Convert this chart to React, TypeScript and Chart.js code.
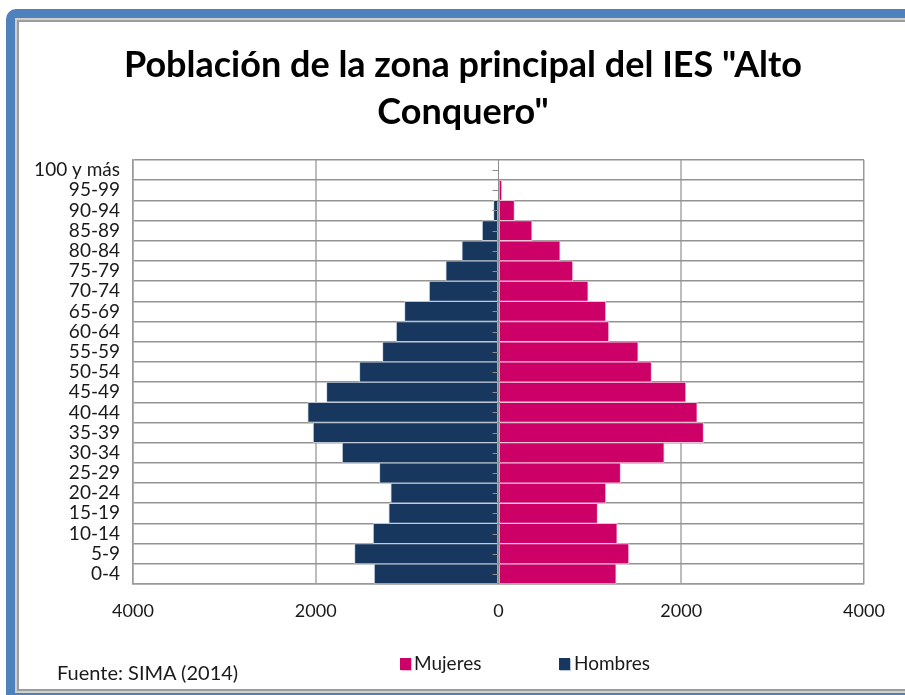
import React, { useEffect, useRef } from "react";
import { Chart, registerables } from "chart.js";

Chart.register(...registerables);

const titleLines = ['Población de la zona principal del IES "Alto', 'Conquero"'];
const categories = [
  "0-4", "5-9", "10-14", "15-19", "20-24", "25-29", "30-34", "35-39", "40-44", "45-49",
  "50-54", "55-59", "60-64", "65-69", "70-74", "75-79", "80-84", "85-89", "90-94", "95-99", "100 y más",
];
const mujeres = [1288, 1427, 1299, 1084, 1175, 1336, 1814, 2244, 2175, 2051, 1675, 1529, 1208, 1175, 982, 814, 675, 368, 175, 37, 0];
const hombres = [1361, 1576, 1372, 1201, 1179, 1303, 1711, 2029, 2088, 1883, 1522, 1270, 1120, 1029, 759, 577, 401, 179, 55, 0, 0];
const xMin = -4000;
const xMax = 4000;
const xStep = 2000;
const seriesNames = ["Mujeres", "Hombres"];
const sourceText = "Fuente: SIMA (2014)";

const PINK = "#CC0066";
const NAVY = "#17375E";
const FONT = "Lato, 'Open Sans', sans-serif";

const zeroAxisPlugin = {
  id: "zeroAxis",
  afterDatasetsDraw(chart: any) {
    const { ctx, scales, chartArea } = chart;
    const x0 = scales.x.getPixelForValue(0);
    ctx.save();
    ctx.strokeStyle = "#8c8c8c";
    ctx.lineWidth = 1;
    ctx.beginPath();
    ctx.moveTo(x0, chartArea.top);
    ctx.lineTo(x0, chartArea.bottom);
    for (let i = 0; i < categories.length; i++) {
      const y = Math.round(scales.y.getPixelForValue(i)) + 0.5;
      ctx.moveTo(x0 - 6, y);
      ctx.lineTo(x0, y);
    }
    ctx.stroke();
    ctx.restore();
  },
};

export default function App() {
  const ref = useRef<HTMLCanvasElement>(null);

  useEffect(() => {
    if (!ref.current) return;
    const chart = new Chart(ref.current, {
      type: "bar",
      data: {
        labels: categories,
        datasets: [
          {
            label: seriesNames[0],
            data: mujeres,
            backgroundColor: PINK,
            borderColor: "rgba(245,200,222,0.9)",
            borderWidth: 1,
            barPercentage: 1,
            categoryPercentage: 1,
          },
          {
            label: seriesNames[1],
            data: hombres.map((v) => -v),
            backgroundColor: NAVY,
            borderColor: "rgba(200,210,225,0.8)",
            borderWidth: 1,
            barPercentage: 1,
            categoryPercentage: 1,
          },
        ],
      },
      options: {
        indexAxis: "y",
        responsive: false,
        animation: false,
        layout: { padding: { left: 14, right: 41, top: 138, bottom: 0 } },
        plugins: {
          legend: { display: false },
          tooltip: { enabled: false },
          title: { display: false },
        },
        scales: {
          x: {
            stacked: true,
            min: xMin,
            max: xMax,
            afterFit: (s: any) => {
              s.height = 105;
            },
            ticks: {
              stepSize: xStep,
              padding: 16,
              color: "#1a1a1a",
              font: { family: FONT, size: 18 },
              callback: (v: any) => String(Math.abs(Number(v))),
            },
            grid: {
              drawTicks: false,
              color: (c: any) => {
                const v = c.tick ? c.tick.value : 0;
                if (v === xMin || v === xMax) return "#9a9a9a";
                if (v === 0) return "rgba(0,0,0,0)";
                return "#bdbdbd";
              },
              lineWidth: (c: any) => {
                const v = c.tick ? c.tick.value : 0;
                return v === xMin || v === xMax ? 1.5 : 2;
              },
            },
            border: { display: true, color: "#9a9a9a", width: 1.5 },
          },
          y: {
            stacked: true,
            reverse: true,
            afterFit: (s: any) => {
              s.width = 100;
            },
            ticks: {
              padding: 13,
              color: "#1a1a1a",
              font: { family: FONT, size: 19 },
              autoSkip: false,
            },
            grid: {
              offset: true,
              drawTicks: false,
              color: "#939393",
              lineWidth: 1.5,
            },
            border: { display: true, color: "#9a9a9a", width: 1.5 },
          },
        },
      },
      plugins: [zeroAxisPlugin],
    });
    return () => chart.destroy();
  }, []);

  const legendText = { position: "absolute" as const, top: 651, height: 24, lineHeight: "24px", fontFamily: FONT, fontSize: 19, color: "#1a1a1a", whiteSpace: "nowrap" as const };

  return (
    <div style={{ position: "fixed", left: 0, top: 0, width: 905, height: 695, background: "#fff", overflow: "hidden" }}>
      <div style={{ position: "absolute", left: 6, top: 9, width: 1000, height: 700, background: "#4F81BD", borderTopLeftRadius: 10 }} />
      <div style={{ position: "absolute", left: 15, top: 18, width: 1000, height: 675, boxSizing: "border-box", border: "2px solid #cfcfcf", background: "#fff" }}>
        <div style={{ position: "absolute", left: 0, top: 0, right: 0, bottom: 0, boxSizing: "border-box", border: "2px solid #9c9c9c" }} />
      </div>
      <canvas ref={ref} width={886} height={667} style={{ position: "absolute", left: 19, top: 22, width: 886, height: 667 }} />
      <div style={{ position: "absolute", left: 0, top: 40, width: 926, textAlign: "center", fontFamily: FONT, fontSize: 36, fontWeight: "bold", lineHeight: "47px", color: "#000", whiteSpace: "nowrap" }}>
        {titleLines.map((t, i) => (
          <div key={i}>{t}</div>
        ))}
      </div>
      <div style={{ position: "absolute", left: 400, top: 658, width: 11, height: 12, background: PINK, boxShadow: "1px 1px 0 #f3b6d3" }} />
      <div style={{ ...legendText, left: 414 }}>{seriesNames[0]}</div>
      <div style={{ position: "absolute", left: 559, top: 658, width: 11, height: 12, background: NAVY, boxShadow: "1px 1px 0 #b9c7da" }} />
      <div style={{ ...legendText, left: 574 }}>{seriesNames[1]}</div>
      <div style={{ ...legendText, left: 57, top: 660, fontSize: 20 }}>{sourceText}</div>
    </div>
  );
}
